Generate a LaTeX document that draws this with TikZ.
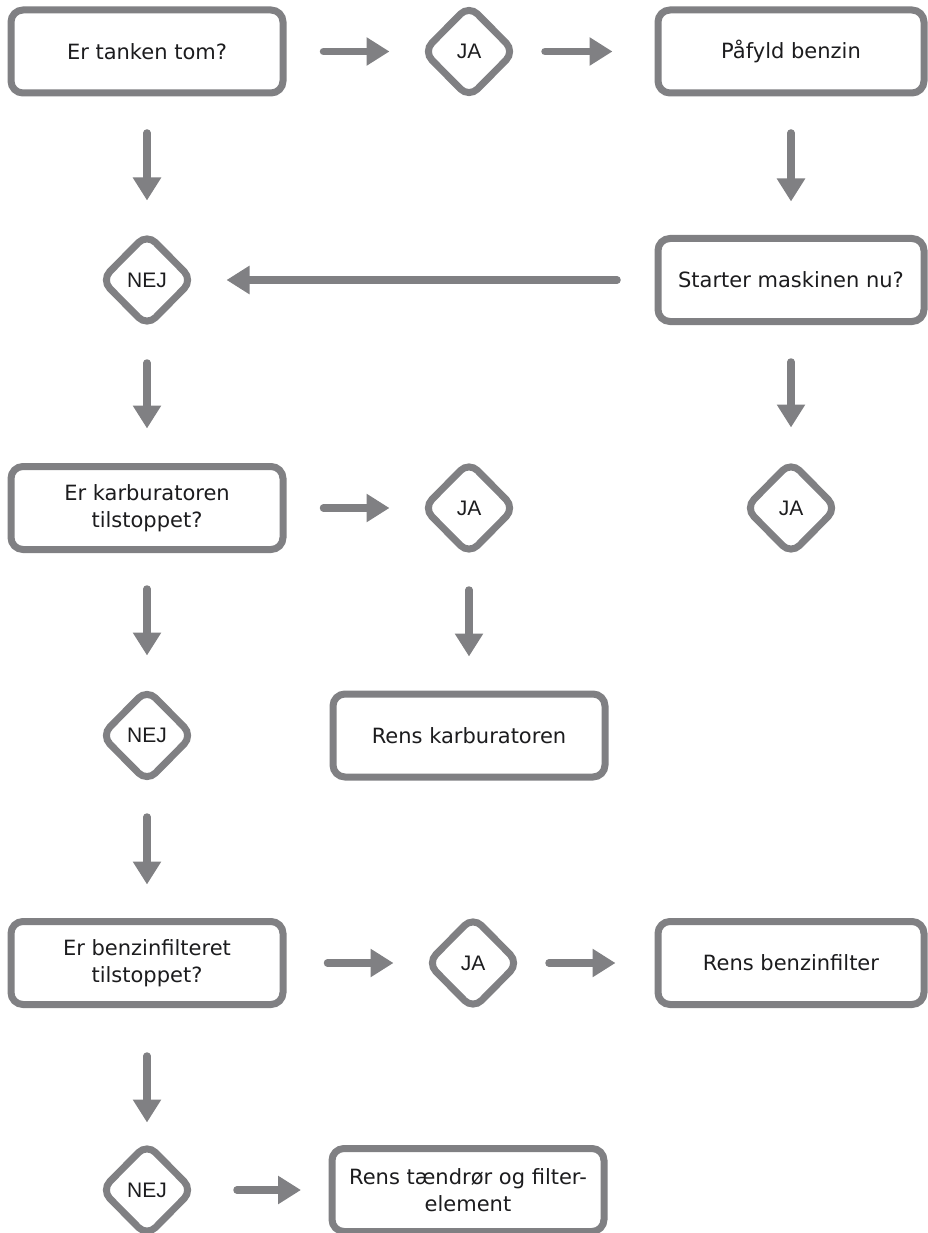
\documentclass[tikz,border=0pt]{standalone}
\usepackage{fontspec}
\setmainfont{DejaVu Sans}
\newfontfamily\diafont{Liberation Sans}
\usetikzlibrary{arrows.meta,shapes.geometric}
\definecolor{edgegray}{RGB}{128,128,131}
\definecolor{ink}{RGB}{28,28,30}
\begin{document}
\begin{tikzpicture}[x=1pt,y=-1pt,
  every node/.style={font=\fontsize{21}{27}\selectfont, text=ink},
  box/.style={draw=edgegray, line width=7pt, rounded corners=12pt, rectangle, minimum width=272pt, minimum height=83pt, align=center, inner sep=0pt, fill=white},
  rbox/.style={box, minimum width=266pt},
  dia/.style={draw=edgegray, line width=7pt, diamond, rounded corners=12pt, minimum width=94pt, minimum height=95pt, inner sep=0pt, fill=white, font=\diafont\fontsize{21}{27}\selectfont},
  arr/.style={draw=edgegray, line width=7.5pt, line cap=round, -{Triangle[width=27pt,length=23pt]}},
]
\useasboundingbox (0,0) rectangle (928,1233);

\node[box] (t1) at (147,51.5) {Er tanken tom?};
\node[dia] (j1) at (469,51.5) {JA};
\node[rbox] (p1) at (791,51.5) {Påfyld benzin};
\node[dia] (n1) at (147,280) {NEJ};
\node[rbox] (s1) at (791,280) {Starter maskinen nu?};
\node[box] (k1) at (147,508) {Er karburatoren\\tilstoppet?};
\node[dia] (j2) at (469,508) {JA};
\node[dia] (j3) at (791,508) {JA};
\node[dia] (n2) at (147,735.5) {NEJ};
\node[box] (rk) at (469,735.5) {Rens karburatoren};
\node[box] (b1) at (147,963) {Er benzinfilteret\\tilstoppet?};
\node[dia] (j4) at (473,963) {JA};
\node[rbox] (rb) at (791,963) {Rens benzinfilter};
\node[dia] (n3) at (147,1190) {NEJ};
\node[box] (rt) at (468,1190) {Rens tændrør og filter-\\element};

\draw[arr, shorten <=36.5pt, shorten >=28.5pt] (t1.south) -- (n1.north);
\draw[arr, shorten <=37pt, shorten >=29pt] (t1.east) -- (j1.west);
\draw[arr, shorten <=25.5pt, shorten >=42pt] (j1.east) -- (p1.west);
\draw[arr, shorten <=36.5pt, shorten >=33.5pt] (p1.south) -- (s1.north);
\draw[arr, shorten <=37.5pt, shorten >=29pt] (s1.west) -- (n1.east);
\draw[arr, shorten <=32pt, shorten >=34.5pt] (n1.south) -- (k1.north);
\draw[arr, shorten <=37pt, shorten >=29.5pt] (s1.south) -- (j3.north);
\draw[arr, shorten <=37pt, shorten >=29pt] (k1.east) -- (j2.west);
\draw[arr, shorten <=36pt, shorten >=29pt] (k1.south) -- (n2.north);
\draw[arr, shorten <=31pt, shorten >=34pt] (j2.south) -- (rk.north);
\draw[arr, shorten <=30.5pt, shorten >=33.5pt] (n2.south) -- (b1.north);
\draw[arr, shorten <=41pt, shorten >=29pt] (b1.east) -- (j4.west);
\draw[arr, shorten <=25.5pt, shorten >=39pt] (j4.east) -- (rb.west);
\draw[arr, shorten <=48pt, shorten >=16.5pt] (b1.south) -- (n3.north);
\draw[arr, shorten <=39.5pt, shorten >=27.5pt] (n3.east) -- (rt.west);
\end{tikzpicture}
\end{document}
